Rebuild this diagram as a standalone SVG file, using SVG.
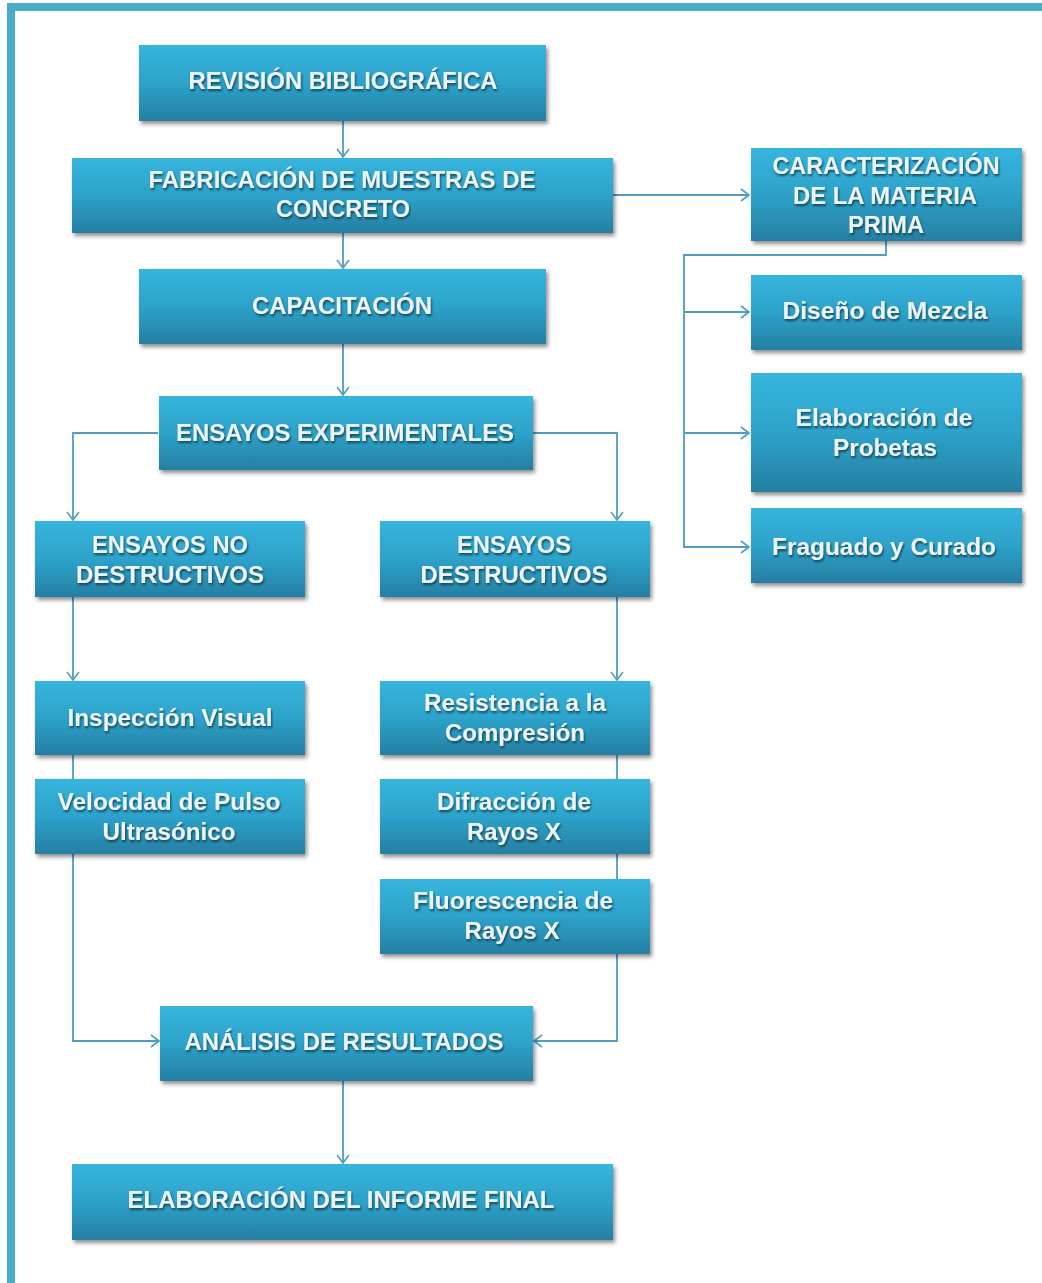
<svg xmlns="http://www.w3.org/2000/svg" width="1042" height="1283" viewBox="0 0 1042 1283">
<defs>
<linearGradient id="g" x1="0" y1="0" x2="0" y2="1">
<stop offset="0" stop-color="#36B5DD"/>
<stop offset="0.5" stop-color="#2DA2CA"/>
<stop offset="1" stop-color="#267FA2"/>
</linearGradient>
<filter id="sh" x="-5%" y="-10%" width="112%" height="130%">
<feGaussianBlur in="SourceAlpha" stdDeviation="2"/>
<feOffset dx="2" dy="3" result="b"/>
<feComponentTransfer><feFuncA type="linear" slope="0.45"/></feComponentTransfer>
<feMerge><feMergeNode/><feMergeNode in="SourceGraphic"/></feMerge>
</filter>
<filter id="ts" x="-5%" y="-20%" width="110%" height="150%">
<feGaussianBlur in="SourceAlpha" stdDeviation="1"/>
<feOffset dx="1" dy="1.5" result="o"/>
<feFlood flood-color="#123c4c" flood-opacity="0.9"/>
<feComposite in2="o" operator="in"/>
<feMerge><feMergeNode/><feMergeNode in="SourceGraphic"/></feMerge>
</filter>
<marker id="ar" viewBox="0 0 10 14" refX="9" refY="7" markerWidth="10" markerHeight="14" markerUnits="userSpaceOnUse" orient="auto">
<path d="M1,1 L9,7 L1,13" fill="none" stroke="#4E9CC2" stroke-width="1.6"/>
</marker>
</defs>
<style>
.box{fill:url(#g);filter:url(#sh);}
.t{font-family:"Liberation Sans",Arial,sans-serif;font-weight:bold;font-size:24px;fill:#EAF6FA;text-anchor:middle;filter:url(#ts);}
.c{fill:none;stroke:#4E9CC2;stroke-width:1.8;}
.a{marker-end:url(#ar);}
</style>
<rect x="0" y="0" width="1042" height="1283" fill="#FFFFFF"/>
<rect x="7" y="3" width="1035" height="8" fill="#4BACC6"/>
<rect x="7" y="3" width="8" height="1280" fill="#4BACC6"/>

<g id="connectors">
<path class="c a" d="M343,121 V157"/>
<path class="c a" d="M613,195 H749"/>
<path class="c a" d="M343,233 V268"/>
<path class="c a" d="M343,344 V395"/>
<path class="c a" d="M158,433 H73 V520"/>
<path class="c a" d="M533,433 H617 V520"/>
<path class="c a" d="M886,241 V255 H684 V547 H749"/>
<path class="c a" d="M684,312 H749"/>
<path class="c a" d="M684,433 H749"/>
<path class="c a" d="M73,597 V680"/>
<path class="c" d="M73,755 V779"/>
<path class="c a" d="M73,854 V1041 H159"/>
<path class="c a" d="M617,597 V680"/>
<path class="c" d="M617,755 V779"/>
<path class="c" d="M617,854 V879"/>
<path class="c a" d="M617,954 V1041 H534"/>
<path class="c a" d="M343,1081 V1163"/>
</g>

<g id="revision"><rect class="box" x="139" y="45" width="407" height="76"/>
<text class="t" x="343" y="89" textLength="309" lengthAdjust="spacingAndGlyphs">REVISIÓN BIBLIOGRÁFICA</text></g>

<g id="fabricacion"><rect class="box" x="72" y="158" width="541" height="75"/>
<text class="t" x="342" y="188" textLength="387" lengthAdjust="spacingAndGlyphs">FABRICACIÓN DE MUESTRAS DE</text>
<text class="t" x="343" y="217" textLength="134" lengthAdjust="spacingAndGlyphs">CONCRETO</text></g>

<g id="caracterizacion"><rect class="box" x="751" y="148" width="271" height="93"/>
<text class="t" x="886" y="174" textLength="227" lengthAdjust="spacingAndGlyphs">CARACTERIZACIÓN</text>
<text class="t" x="885" y="204" textLength="184" lengthAdjust="spacingAndGlyphs">DE LA MATERIA</text>
<text class="t" x="886" y="233" textLength="76" lengthAdjust="spacingAndGlyphs">PRIMA</text></g>

<g id="capacitacion"><rect class="box" x="139" y="269" width="407" height="75"/>
<text class="t" x="342" y="314" textLength="180" lengthAdjust="spacingAndGlyphs">CAPACITACIÓN</text></g>

<g id="diseno"><rect class="box" x="751" y="275" width="271" height="75"/>
<text class="t" x="885" y="319" textLength="205" lengthAdjust="spacingAndGlyphs">Diseño de Mezcla</text></g>

<g id="elaboracion-probetas"><rect class="box" x="751" y="373" width="271" height="119"/>
<text class="t" x="884" y="426" textLength="177" lengthAdjust="spacingAndGlyphs">Elaboración de</text>
<text class="t" x="885" y="456" textLength="104" lengthAdjust="spacingAndGlyphs">Probetas</text></g>

<g id="fraguado"><rect class="box" x="751" y="508" width="271" height="75"/>
<text class="t" x="884" y="555" textLength="224" lengthAdjust="spacingAndGlyphs">Fraguado y Curado</text></g>

<g id="experimentales"><rect class="box" x="159" y="396" width="374" height="74"/>
<text class="t" x="345" y="441" textLength="338" lengthAdjust="spacingAndGlyphs">ENSAYOS EXPERIMENTALES</text></g>

<g id="no-destructivos"><rect class="box" x="35" y="521" width="270" height="76"/>
<text class="t" x="170" y="553" textLength="156" lengthAdjust="spacingAndGlyphs">ENSAYOS NO</text>
<text class="t" x="170" y="583" textLength="188" lengthAdjust="spacingAndGlyphs">DESTRUCTIVOS</text></g>

<g id="destructivos"><rect class="box" x="380" y="521" width="270" height="76"/>
<text class="t" x="514" y="553" textLength="114" lengthAdjust="spacingAndGlyphs">ENSAYOS</text>
<text class="t" x="514" y="583" textLength="187" lengthAdjust="spacingAndGlyphs">DESTRUCTIVOS</text></g>

<g id="inspeccion"><rect class="box" x="35" y="681" width="270" height="74"/>
<text class="t" x="170" y="726" textLength="205" lengthAdjust="spacingAndGlyphs">Inspección Visual</text></g>

<g id="velocidad"><rect class="box" x="35" y="779" width="270" height="75"/>
<text class="t" x="169" y="810" textLength="223" lengthAdjust="spacingAndGlyphs">Velocidad de Pulso</text>
<text class="t" x="169" y="840" textLength="133" lengthAdjust="spacingAndGlyphs">Ultrasónico</text></g>

<g id="resistencia"><rect class="box" x="380" y="681" width="270" height="74"/>
<text class="t" x="515" y="711" textLength="182" lengthAdjust="spacingAndGlyphs">Resistencia a la</text>
<text class="t" x="515" y="741" textLength="140" lengthAdjust="spacingAndGlyphs">Compresión</text></g>

<g id="difraccion"><rect class="box" x="380" y="779" width="270" height="75"/>
<text class="t" x="514" y="810" textLength="154" lengthAdjust="spacingAndGlyphs">Difracción de</text>
<text class="t" x="514" y="840" textLength="94" lengthAdjust="spacingAndGlyphs">Rayos X</text></g>

<g id="fluorescencia"><rect class="box" x="380" y="879" width="270" height="75"/>
<text class="t" x="513" y="909" textLength="200" lengthAdjust="spacingAndGlyphs">Fluorescencia de</text>
<text class="t" x="512" y="939" textLength="95" lengthAdjust="spacingAndGlyphs">Rayos X</text></g>

<g id="analisis"><rect class="box" x="160" y="1006" width="373" height="75"/>
<text class="t" x="344" y="1050" textLength="319" lengthAdjust="spacingAndGlyphs">ANÁLISIS DE RESULTADOS</text></g>

<g id="informe"><rect class="box" x="72" y="1164" width="541" height="76"/>
<text class="t" x="341" y="1208" textLength="427" lengthAdjust="spacingAndGlyphs">ELABORACIÓN DEL INFORME FINAL</text></g>
</svg>
